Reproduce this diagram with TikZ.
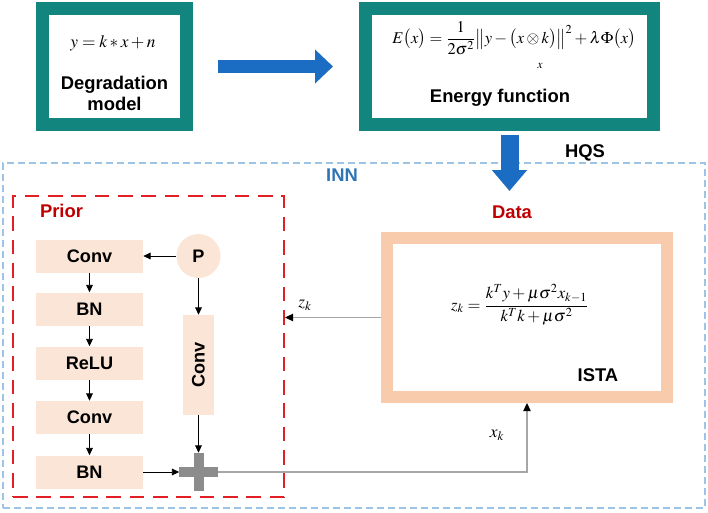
\documentclass[tikz,border=0pt]{standalone}
\usepackage{amsmath}
\usepackage{mathptmx}
\usepackage[no-math]{fontspec}
\setsansfont{Liberation Sans}
\usepackage{tikz}
\usetikzlibrary{arrows.meta}
\definecolor{deepteal}{HTML}{13857F}
\definecolor{arrowblue}{HTML}{1A6DC2}
\definecolor{peach}{HTML}{FBE5D6}
\definecolor{peachdark}{HTML}{F8CBAD}
\definecolor{priorred}{HTML}{E31F26}
\definecolor{labelred}{HTML}{C00000}
\definecolor{innblue}{HTML}{2E75B6}
\definecolor{innline}{HTML}{9DC3E6}
\definecolor{plusgrey}{HTML}{8C8C8C}
\definecolor{linegrey}{HTML}{A6A6A6}

\begin{document}
\begin{tikzpicture}[x=0.75pt,y=-0.75pt]
      \tikzstyle tealbox=[draw=deepteal, line width=9.75pt, fill=white, minimum height=87pt]
      \tikzstyle block=[fill=peach, minimum width=80.25pt, minimum height=24.75pt,
      font=\sffamily\bfseries\fontsize{13.6}{16}\selectfont]
      \tikzstyle lbl=[font=\sffamily\bfseries\fontsize{13.8}{15.75}\selectfont, align=center]
      \tikzstyle eq=[font=\fontsize{13}{15}\selectfont]
      \tikzstyle bigarrow=[arrowblue, line width=9.75pt,
      -{Triangle[length=13.5pt,width=24.75pt]}]
      \tikzstyle flow=[black, line width=0.6pt, -{Triangle[length=5.5pt,width=5pt]}]
      \tikzstyle link=[linegrey, line width=0.8pt, -{Triangle[length=6pt,width=5.5pt,black]}]
      \useasboundingbox (0,0) rectangle (708,512);
      \node [draw=innline, line width=1.2pt, dash pattern=on 5.25pt off 3pt,
      minimum width=526.5pt, minimum height=258.75pt] (inn) at (354,335.5) {};
      \node [draw=priorred, line width=1.5pt, dash pattern=on 11pt off 6.5pt,
      minimum width=203.25pt, minimum height=225.75pt] (prior) at (148.5,346.5) {};
      \node [tealbox, minimum width=108pt] (degr) at (114.5,66.5) {};
      \node [tealbox, minimum width=216pt] (energy) at (509.5,66.5) {};
      \node [draw=peachdark, line width=9pt, fill=white, minimum width=210pt,
      minimum height=119.25pt] (ista) at (527,317.5) {};
      \node [eq] (degreq) at (113,43) {$y=k*x+n$};
      \node [lbl] (degrtxt) at (114.5,93.5) {Degradation\\model};
      \node [eq, font=\fontsize{12.3}{14}\selectfont] (energyeq) at (514,38)
      {$E\bigl(x\bigr)=\dfrac{1}{2\sigma^2}\bigl\|y-\bigl(x\otimes k\bigr)\bigr\|^2+\lambda\Phi\bigl(x\bigr)$};
      \node [font=\fontsize{9}{11}\selectfont] (energysub) at (540,66) {$x$};
      \node [lbl] (energytxt) at (500,98) {Energy function};
      \draw [bigarrow, shorten <=18.75pt, shorten >=19.5pt] (degr) -- (energy);
      \coordinate (hqsend) at (509.5,191);
      \draw [bigarrow, line width=13.5pt, shorten <=3pt,
      -{Triangle[length=15.75pt,width=25.5pt]}] (energy.south) -- (hqsend);
      \node [lbl] (hqs) at (585,153) {HQS};
      \node [lbl, text=innblue] (innlbl) at (342,175) {INN};
      \node [lbl, text=labelred] (priorlbl) at (61.5,211) {Prior};
      \node [lbl, text=labelred] (datalbl) at (512,212) {Data};
      \node [block] (conva) at (89.5,256) {Conv};
      \node [block] (bna) at (89.5,309) {BN};
      \node [block] (relu) at (89.5,363) {ReLU};
      \node [block] (convb) at (89.5,417.5) {Conv};
      \node [block] (bnb) at (89.5,472) {BN};
      \node [circle, fill=peach, minimum size=33pt, inner sep=0pt,
      font=\sffamily\bfseries\fontsize{13.6}{16}\selectfont] (p) at (198.5,256) {P};
      \node [block, rotate=90, minimum width=75pt, minimum height=23.25pt] (convc) at (198.5,365) {Conv};
      \node [minimum size=28.5pt, inner sep=0pt] (plus) at (198.5,472) {};
      \fill [plusgrey] ([yshift=-3.75pt]plus.west) rectangle ([yshift=3.75pt]plus.east);
      \fill [plusgrey] ([xshift=-3.75pt]plus.south) rectangle ([xshift=3.75pt]plus.north);
      \draw [flow] (p) -- (conva);
      \draw [flow] (p) -- (convc);
      \draw [flow] (convc) -- (plus);
      \draw [flow] (conva) -- (bna);
      \draw [flow] (bna) -- (relu);
      \draw [flow] (relu) -- (convb);
      \draw [flow] (convb) -- (bnb);
      \draw [flow] (bnb) -- (plus);
      \node [eq, font=\fontsize{12.5}{14}\selectfont] (zeq) at (520,305)
      {$z_k=\dfrac{k^Ty+\mu\sigma^2x_{k-1}}{k^Tk+\mu\sigma^2}$};
      \node [lbl] (istalbl) at (598,375) {ISTA};
      \draw [link] (ista.west) -- (ista.west -| prior.east);
      \node [eq] (zk) at (305,305) {$z_k$};
      \draw [link] (plus.east) -| (ista.south);
      \node [eq] (xk) at (497,435) {$x_k$};
\end{tikzpicture}
\end{document}
